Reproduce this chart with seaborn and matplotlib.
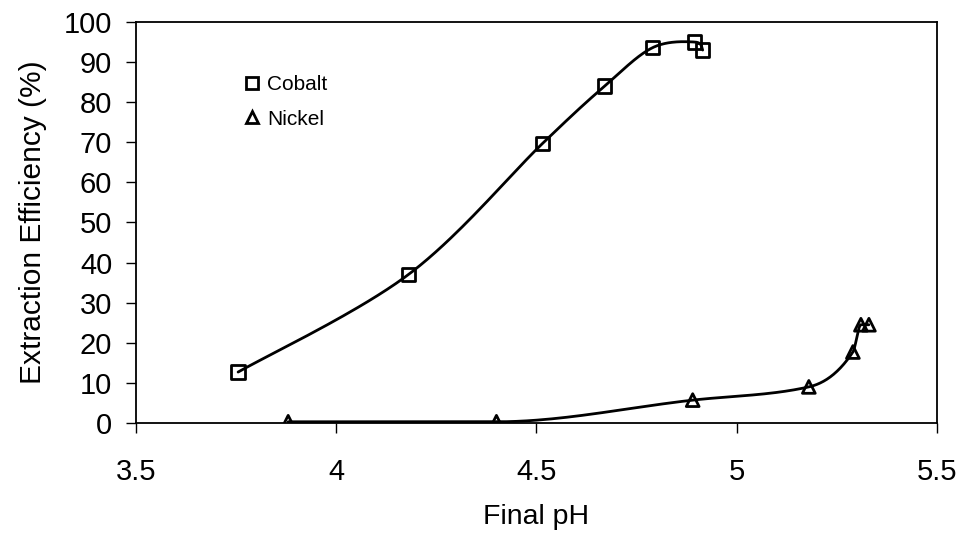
import numpy as np
import pandas as pd
import matplotlib
matplotlib.use("Agg")
import matplotlib.pyplot as plt
from matplotlib.lines import Line2D
import seaborn as sns

# Measured extraction efficiency against final pH
cobalt_ph = [3.755, 4.18, 4.515, 4.67, 4.79, 4.895, 4.915]
cobalt_eff = [12.7, 37.0, 69.7, 84.0, 93.6, 95.0, 93.0]

nickel_ph = [3.88, 4.40, 4.89, 5.18, 5.29, 5.31, 5.33]
nickel_eff = [0.3, 0.3, 5.7, 9.0, 17.7, 24.5, 24.5]

x_ticks = [3.5, 4, 4.5, 5, 5.5]
x_tick_labels = ["3.5", "4", "4.5", "5", "5.5"]
y_ticks = list(range(0, 101, 10))


def smoothed(xs, ys, n=40):
    """Smoothed line through the points (cubic Bezier, Catmull-Rom tangents)."""
    pts = np.column_stack([xs, ys]).astype(float)
    P = np.vstack([pts[0], pts, pts[-1]])
    t = np.linspace(0, 1, n)[:, None]
    segs = []
    for i in range(1, len(P) - 2):
        p0, p1, p2, p3 = P[i - 1], P[i], P[i + 1], P[i + 2]
        c1 = p1 + (p2 - p0) / 6.0
        c2 = p2 - (p3 - p1) / 6.0
        seg = ((1 - t) ** 3) * p1 + 3 * ((1 - t) ** 2) * t * c1 \
            + 3 * (1 - t) * t ** 2 * c2 + t ** 3 * p2
        segs.append(seg if i == 1 else seg[1:])
    out = np.vstack(segs)
    return out[:, 0], out[:, 1]


def monotone(xs, ys, n=40):
    """Monotone cubic (Fritsch-Carlson) curve through the points."""
    x = np.asarray(xs, float)
    y = np.asarray(ys, float)
    h = np.diff(x)
    d = np.diff(y) / h
    m = np.zeros_like(x)
    m[0], m[-1] = d[0], d[-1]
    for k in range(1, len(x) - 1):
        if d[k - 1] * d[k] <= 0:
            m[k] = 0.0
        else:
            w1 = 2 * h[k] + h[k - 1]
            w2 = h[k] + 2 * h[k - 1]
            m[k] = (w1 + w2) / (w1 / d[k - 1] + w2 / d[k])
    sx, sy = [], []
    for k in range(len(x) - 1):
        t = np.linspace(0, 1, n)
        h00 = 2 * t**3 - 3 * t**2 + 1
        h10 = t**3 - 2 * t**2 + t
        h01 = -2 * t**3 + 3 * t**2
        h11 = t**3 - t**2
        yy = h00 * y[k] + h10 * h[k] * m[k] + h01 * y[k + 1] + h11 * h[k] * m[k + 1]
        xx = x[k] + t * h[k]
        sx.extend(xx if k == 0 else xx[1:])
        sy.extend(yy if k == 0 else yy[1:])
    return np.array(sx), np.array(sy)


sns.set_style("ticks")
plt.rcParams["font.family"] = ["Liberation Sans", "DejaVu Sans"]
plt.rcParams["text.color"] = "black"
plt.rcParams["axes.labelcolor"] = "black"

fig = plt.figure(figsize=(9.63, 5.40), dpi=100)
ax = fig.add_axes([0.1412, 0.2167, 0.8318, 0.7426])

curves = [smoothed(cobalt_ph, cobalt_eff), monotone(nickel_ph, nickel_eff)]
for sx, sy in curves:
    curve = pd.DataFrame({"pH": sx, "eff": sy})
    sns.lineplot(data=curve, x="pH", y="eff", sort=False, estimator=None,
                 color="black", linewidth=2.0, ax=ax)

co = pd.DataFrame({"pH": cobalt_ph, "eff": cobalt_eff})
ni = pd.DataFrame({"pH": nickel_ph, "eff": nickel_eff})
sns.scatterplot(data=co, x="pH", y="eff", marker="s", s=95,
                facecolor="none", edgecolor="black", linewidth=2.0,
                ax=ax, zorder=3)
sns.scatterplot(data=ni, x="pH", y="eff", marker="^", s=85,
                facecolor="none", edgecolor="black", linewidth=2.0,
                ax=ax, zorder=3)

ax.set_xlim(3.5, 5.5)
ax.set_ylim(0, 100)
ax.set_xticks(x_ticks)
ax.set_xticklabels(x_tick_labels)
ax.set_yticks(y_ticks)
ax.tick_params(axis="both", direction="out", length=7, width=1.0,
               colors="black", labelsize=21)
ax.tick_params(axis="x", pad=18)
ax.tick_params(axis="y", pad=10)

for side in ["left", "bottom", "top", "right"]:
    ax.spines[side].set_visible(True)
    ax.spines[side].set_color("black")
    ax.spines[side].set_linewidth(1.3)

ax.set_xlabel("Final pH", fontsize=20.5, labelpad=13)
ax.set_ylabel("Extraction Efficiency (%)", fontsize=21.5, labelpad=12)

handles = [
    Line2D([], [], linestyle="none", marker="s", markersize=8,
           markerfacecolor="none", markeredgecolor="black",
           markeredgewidth=2.0, label="Cobalt"),
    Line2D([], [], linestyle="none", marker="^", markersize=8,
           markerfacecolor="none", markeredgecolor="black",
           markeredgewidth=2.0, label="Nickel"),
]
ax.legend(handles=handles, loc="upper left", bbox_to_anchor=(0.135, 0.868),
          frameon=False, fontsize=15, handlelength=0.8, handletextpad=0.3,
          labelspacing=0.75, borderpad=0, borderaxespad=0)

fig.savefig("out.png", dpi=100, facecolor="white")
